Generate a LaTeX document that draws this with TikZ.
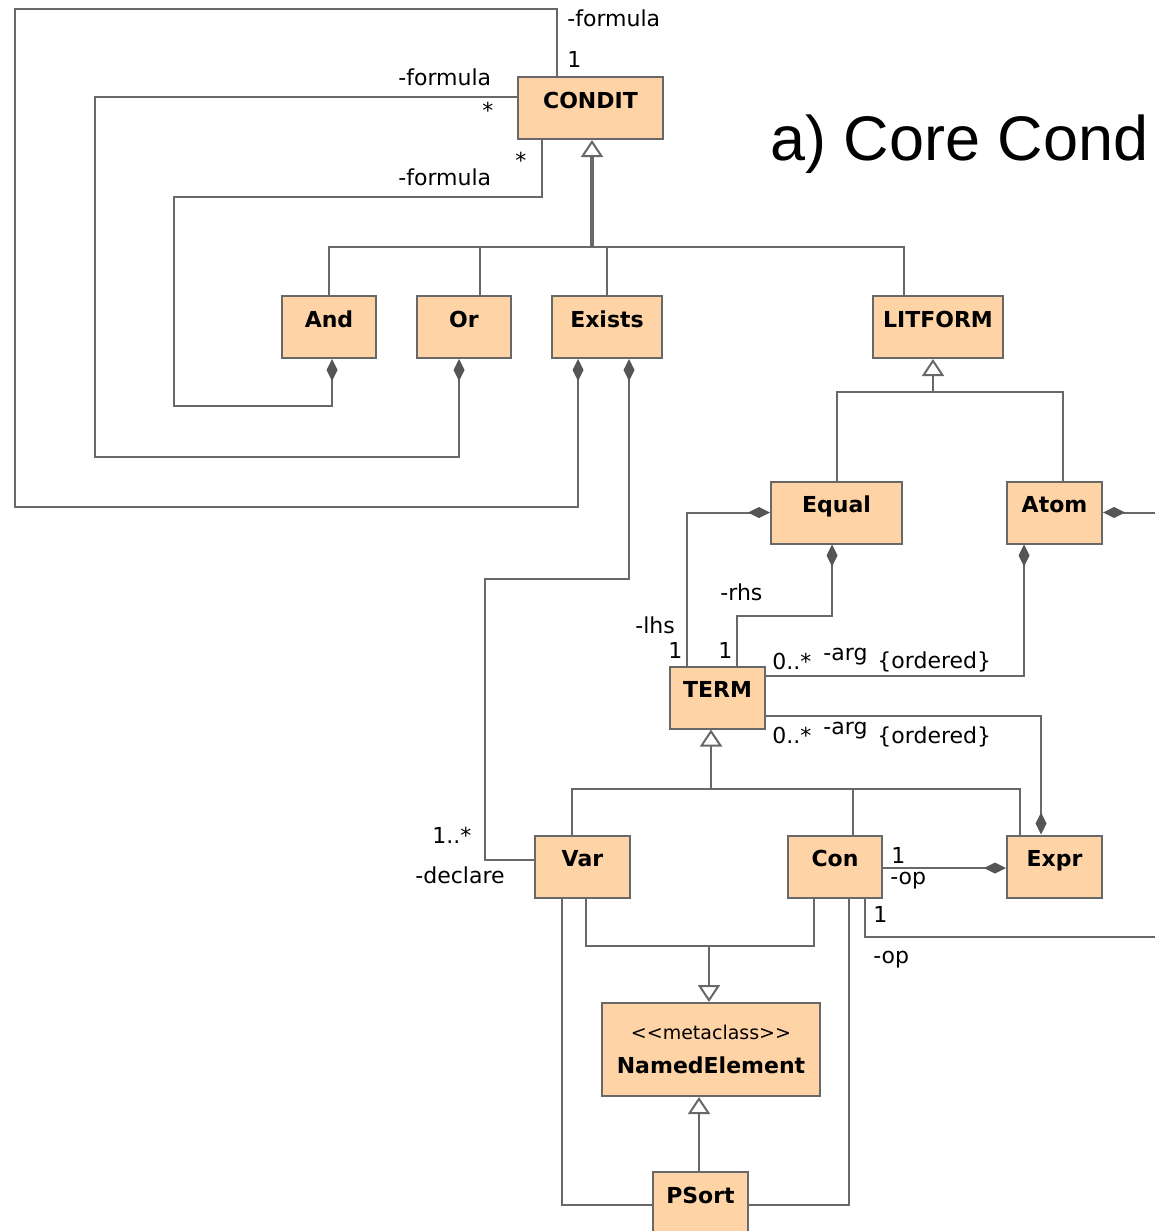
\documentclass[tikz,border=0pt]{standalone}
\usepackage{fontspec}
\usepackage{tikz}
\usetikzlibrary{arrows.meta}
\newfontfamily\umlfamily{DejaVu Sans}
\newfontfamily\titlefamily{Liberation Sans}
\newcommand{\umlfont}{\umlfamily\fontsize{11}{13}\selectfont}
\newcommand{\umlbold}{\umlfamily\bfseries\fontsize{11}{13}\selectfont}
\newcommand{\stereofont}{\umlfamily\mdseries\fontsize{9.5}{11}\selectfont}
\newcommand{\titlefont}{\titlefamily\fontsize{31.5}{36}\selectfont}
\definecolor{classfill}{RGB}{254,211,165}
\definecolor{umlgrey}{RGB}{104,104,104}
\definecolor{tipgrey}{RGB}{85,85,85}
\tikzstyle{umlclass} = [rectangle, draw=umlgrey, fill=classfill, line width=1pt, inner ysep=0pt, text height=15.5pt, text depth=15.5pt, font=\umlbold]
\tikzstyle{metaclass} = [rectangle, draw=umlgrey, fill=classfill, line width=1pt, align=center, font=\umlbold]
\tikzstyle{assoc} = [draw=umlgrey, line width=1pt]
\tikzstyle{compo} = [assoc, {Diamond[length=11pt, width=5.5pt, fill=tipgrey, color=tipgrey]}-]
\tikzstyle{generalize} = [assoc, {Triangle[open, length=8.5pt, width=11pt, line width=1pt, fill=white]}-]
\tikzstyle{role} = [font=\umlfont, inner sep=0pt, anchor=base west]

\begin{document}
\begin{tikzpicture}[x=0.5pt, y=-0.5pt]
	\useasboundingbox (0,0) rectangle (1155,1231);
	\node (condit) [umlclass, minimum width=72.5pt] at (590.5,108) {CONDIT};
	\node (and) [umlclass, minimum width=47pt] at (329,327) {And};
	\node (or) [umlclass, minimum width=47pt] at (464,327) {Or};
	\node (exists) [umlclass, minimum width=55pt] at (607,327) {Exists};
	\node (litform) [umlclass, minimum width=65pt] at (938,327) {LITFORM};
	\node (equal) [umlclass, minimum width=65.5pt] at (836.5,512.5) {Equal};
	\node (atom) [umlclass, minimum width=47.5pt] at (1054.5,512.5) {Atom};
	\node (term) [umlclass, minimum width=47.5pt] at (717.5,697.5) {TERM};
	\node (var) [umlclass, minimum width=47.5pt] at (582.5,866.5) {Var};
	\node (con) [umlclass, minimum width=47pt] at (835,866.5) {Con};
	\node (expr) [umlclass, minimum width=47.5pt] at (1054.5,866.5) {Expr};
	\node (named) [metaclass, minimum width=109pt, minimum height=46.5pt] at (711,1049.5) {{\stereofont <{}<metaclass>{}>}\\[4pt]NamedElement};
	\node (psort) [umlclass, minimum width=47.5pt] at (700.5,1203) {PSort};
	\node (title) [font=\titlefont, anchor=base west, inner sep=0pt] at (770,160) {a) Core Cond};
	\coordinate (atomout) at (1160,512.5);
	\coordinate (conout) at (1160,937);
	%generalisations
	\draw [generalize, line width=2pt] (592,0 |- condit.south) -- (592,247);
	\draw [assoc] (and.north) -- (329,247) -- (904,247) -- (904,0 |- litform.north);
	\draw [assoc] (480,0 |- or.north) -- (480,247);
	\draw [assoc] (exists.north) -- (607,247);
	\draw [generalize] (933,0 |- litform.south) -- (933,392);
	\draw [assoc] (equal.north) |- (1063,392) -- (1063,0 |- atom.north);
	\draw [generalize] (711,0 |- term.south) -- (711,789);
	\draw [assoc] (572,0 |- var.north) |- (1020,789) -- (1020,0 |- expr.north);
	\draw [assoc] (853,0 |- con.north) -- (853,789);
	\draw [generalize] (709,0 |- named.north) -- (709,946);
	\draw [assoc] (586,0 |- var.south) |- (814,946) -- (814,0 |- con.south);
	\draw [generalize] (699,0 |- named.south) -- (699,0 |- psort.north);
	%formula loops
	\draw [compo] (578,0 |- exists.south) -- (578,507) -- (15,507) -- (15,9) -- (557,9) -- (557,0 |- condit.north);
	\draw [compo] (459,0 |- or.south) -- (459,457) -- (95,457) -- (95,97) -- (condit.west |- 0,97);
	\draw [compo] (332,0 |- and.south) -- (332,406) -- (174,406) -- (174,197) -- (542,197) -- (542,0 |- condit.south);
	\node (f1) [role] at (567,26) {-formula};
	\node (m1) [role] at (567,67) {1};
	\node (f2) [role] at (398,85) {-formula};
	\node (m2) [role] at (482,118) {*};
	\node (m3) [role] at (515,168) {*};
	\node (f3) [role] at (398,185) {-formula};
	%declare
	\draw [compo] (629,0 |- exists.south) -- (629,579) -- (485,579) |- (var.west |- 0,860);
	\node (m4) [role] at (432,843) {1..*};
	\node (decl) [role] at (415,883) {-declare};
	%equal, atom, expr
	\draw [compo] (equal.west) -| (687,0 |- term.north);
	\draw [compo] (832,0 |- equal.south) -- (832,616) -| (737,0 |- term.north);
	\draw [compo] (1024,0 |- atom.south) |- (term.east |- 0,676);
	\draw [compo] (1041,0 |- expr.north) |- (term.east |- 0,716);
	\draw [compo] (atom.east) -- (atomout);
	\node (lhs) [role] at (635,633) {-lhs};
	\node (m5) [role] at (668,658) {1};
	\node (rhs) [role] at (720,600) {-rhs};
	\node (m6) [role] at (718,658) {1};
	\node (m7) [role] at (772,669) {0..*};
	\node (arg1) [role] at (823,660) {-arg};
	\node (ord1) [role] at (877,668) {\{ordered\}};
	\node (m8) [role] at (772,743) {0..*};
	\node (arg2) [role] at (823,734) {-arg};
	\node (ord2) [role] at (877,743) {\{ordered\}};
	%op
	\draw [compo] (expr.west |- 0,868) -- (con.east |- 0,868);
	\draw [assoc] (865,0 |- con.south) |- (conout);
	\node (m9) [role] at (891,863) {1};
	\node (op1) [role] at (890,884) {-op};
	\node (m10) [role] at (873,922) {1};
	\node (op2) [role] at (873,963) {-op};
	%psort
	\draw [assoc] (562,0 |- var.south) |- (psort.west |- 0,1205);
	\draw [assoc] (849,0 |- con.south) |- (psort.east |- 0,1205);
\end{tikzpicture}
\end{document}
